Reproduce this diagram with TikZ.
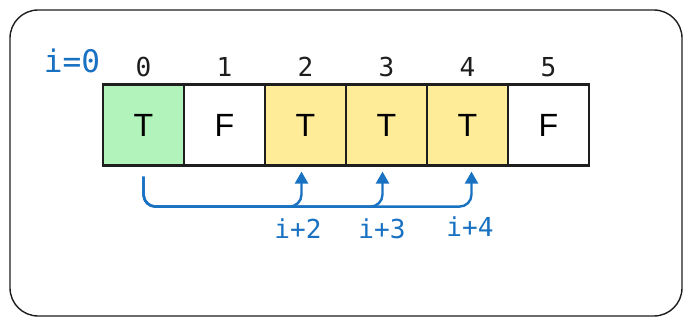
\documentclass[tikz,border=0pt]{standalone}
\usepackage{fontspec}
\setmainfont{Liberation Sans}
\newfontfamily\monofont{DejaVu Sans Mono}
\usetikzlibrary{arrows.meta}

\definecolor{xblue}{HTML}{1971C2}
\definecolor{xgreen}{HTML}{B2F2BB}
\definecolor{xyellow}{HTML}{FFEC99}
\definecolor{xink}{HTML}{1E1E1E}

\begin{document}
\begin{tikzpicture}[
  x=0.35mm, y=-0.35mm,
  cell/.style={draw=xink, line width=2.2pt, minimum size=81*0.35mm, inner sep=0pt,
               font=\fontsize{32}{36}\selectfont},
  idx/.style={font=\monofont\fontsize{26}{30}\selectfont, text=xink},
  jumplbl/.style={font=\monofont\fontsize{26}{30}\selectfont, text=xblue},
  jump/.style={-{Triangle[length=12pt, width=13pt]}, xblue, line width=2.4pt,
               rounded corners=12pt}
]

\useasboundingbox (0,0) rectangle (692,326);
\draw[xink, line width=1.4pt, rounded corners=28pt] (10,10) rectangle (682,316);

\node[font=\monofont\fontsize{31}{34}\selectfont, text=xblue] (start) at (72,61) {i=0};

\node[cell, fill=xgreen]  (c0) at (143.5,125) {T};
\node[cell, fill=white]   (c1) at (224.5,125) {F};
\node[cell, fill=xyellow] (c2) at (305.5,125) {T};
\node[cell, fill=xyellow] (c3) at (386.5,125) {T};
\node[cell, fill=xyellow] (c4) at (467.5,125) {T};
\node[cell, fill=white]   (c5) at (548.5,125) {F};

\foreach \k in {0,...,5} { \node[idx] (n\k) at (143.5+81*\k,67) {\k}; }

\coordinate (hop) at ([yshift=-10*0.35mm]c0.south);
\draw[jump] (hop) -- ++(0,30) -| ([xshift=-4*0.35mm, yshift=-5*0.35mm]c2.south);
\draw[jump] (hop) -- ++(0,30) -| ([xshift=-4*0.35mm, yshift=-5*0.35mm]c3.south);
\draw[jump] (hop) -- ++(0,30) -| ([xshift=4*0.35mm, yshift=-5*0.35mm]c4.south);

\node[jumplbl] (l2) at (298,229) {i+2};
\node[jumplbl] (l3) at (382,229) {i+3};
\node[jumplbl] (l4) at (470,227) {i+4};

\end{tikzpicture}
\end{document}
